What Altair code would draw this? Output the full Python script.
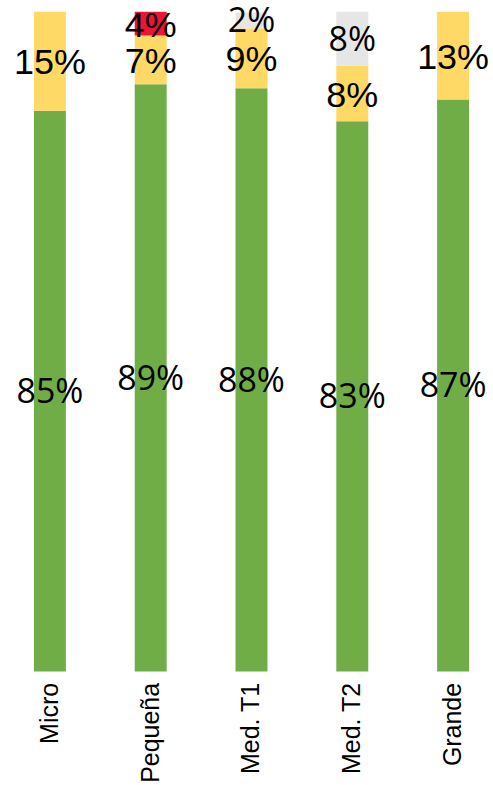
import altair as alt
import pandas as pd

categories = ["Micro", "Pequeña", "Med. T1", "Med. T2", "Grande"]
series = ["Verde", "Amarillo", "Rojo", "Gris"]
verde = [85.0, 89.0, 88.4, 83.4, 86.7]
amarillo = [15.0, 7.4, 9.1, 8.4, 13.3]
rojo = [0.0, 3.6, 0.0, 0.0, 0.0]
gris = [0.0, 0.0, 2.4, 8.2, 0.0]
colors = ["#70AD47", "#FFD966", "#EE1438", "#E7E6E6"]

rows = []
for s_i, (s, vals) in enumerate(zip(series, [verde, amarillo, rojo, gris])):
    for c, v in zip(categories, vals):
        rows.append({"cat": c, "serie": s, "orden": s_i, "valor": v / 100.0,
                     "etiqueta": f"{round(v)}%" if v > 0 else ""})
df = pd.DataFrame(rows)

x = alt.X("cat:N", sort=categories, title=None,
          scale=alt.Scale(paddingInner=0.683, paddingOuter=0.2376),
          axis=alt.Axis(labelAngle=-90, labelAlign="right", labelBaseline="middle",
                        labelFont="Liberation Sans", labelFontSize=25, labelColor="#000000",
                        labelPadding=11, domain=False, ticks=False, grid=False))
y = alt.Y("valor:Q", stack="zero", scale=alt.Scale(domain=[0, 1], nice=False),
          axis=None)

bars = alt.Chart(df).mark_bar().encode(
    x=x, y=y,
    color=alt.Color("serie:N", scale=alt.Scale(domain=series, range=colors), legend=None),
    order=alt.Order("orden:Q"),
)

base_text = alt.Chart(df).transform_stack(
    stack="valor", groupby=["cat"], as_=["y0", "y1"], sort=[alt.SortField("orden")]
).transform_calculate(mid="(datum.y0 + datum.y1) / 2").transform_filter("datum.valor > 0")

txt_a = base_text.transform_filter("datum.serie == 'Verde' || datum.serie == 'Gris'").mark_text(
    font="Open Sans", fontSize=34, color="#000000", baseline="middle", dy=2
).encode(x=alt.X("cat:N", sort=categories), y=alt.Y("mid:Q"), text="etiqueta:N")

txt_b = base_text.transform_filter("datum.serie == 'Amarillo' || datum.serie == 'Rojo'").mark_text(
    font="Liberation Sans", fontSize=36, color="#000000", baseline="middle", dy=2
).encode(x=alt.X("cat:N", sort=categories), y=alt.Y("mid:Q"), text="etiqueta:N")

chart = alt.layer(bars, txt_a, txt_b).properties(
    width=484, height=661,
    autosize=alt.AutoSizeParams(type="none"),
    padding={"left": 10, "top": 11, "right": 0, "bottom": 113},
).configure_view(stroke=None)

chart.save("out.html", embed_options={"renderer": "svg", "actions": False})
